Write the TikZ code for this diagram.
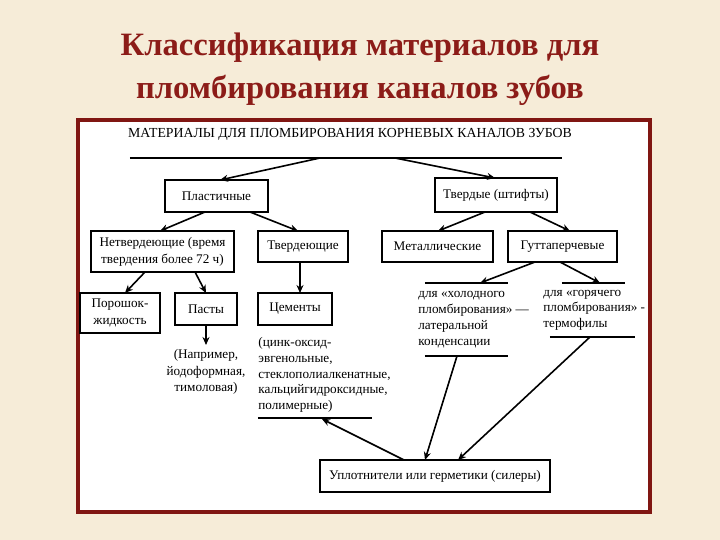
\documentclass[tikz,border=0pt]{standalone}
\usepackage{fontspec}
\setmainfont{Liberation Serif}
\usetikzlibrary{arrows.meta}
\definecolor{bgc}{RGB}{246,236,216}
\definecolor{frm}{RGB}{128,22,18}
\definecolor{ttl}{RGB}{140,28,24}
\begin{document}
\begin{tikzpicture}[x=0.5pt,y=-0.5pt,
  tx/.style={inner sep=0pt,font=\fontsize{6.6}{8}\selectfont},
  ar/.style={thick,-{Stealth[length=4pt,width=3.5pt]}},
  ln/.style={thick}]
\fill[bgc] (0,0) rectangle (720,540);
\useasboundingbox (0,0) rectangle (720,540);
\draw[frm,line width=2pt,fill=white] (78,120) rectangle (650,512);
\node[ttl,font=\fontsize{16.3}{19}\selectfont\bfseries] (t1) at (360,48) {Классификация материалов для};
\node[ttl,font=\fontsize{16.3}{19}\selectfont\bfseries] (t2) at (360,90) {пломбирования каналов зубов};
\node[tx,font=\fontsize{6.9}{8}\selectfont] (hd) at (350,134) {МАТЕРИАЛЫ ДЛЯ ПЛОМБИРОВАНИЯ КОРНЕВЫХ КАНАЛОВ ЗУБОВ};
\coordinate (h1) at (130,158); \coordinate (h2) at (562,158);
\draw[line width=1pt] (h1) -- (h2);
\coordinate (hA) at (320,158); \coordinate (hB) at (395,158);
% boxes
\draw[thick] (165,180) rectangle (268,212); \node[tx] (pl) at (216.5,196) {Пластичные};
\draw[thick] (91,231) rectangle (234,272); \node[tx,align=center,font=\fontsize{6.6}{8.4}\selectfont] (nt) at (162.5,251.5) {Нетвердеющие (время\\твердения более 72 ч)};
\draw[thick] (258,231) rectangle (348,262); \node[tx] (tv) at (303,246.5) {Твердеющие};
\draw[thick] (80,293) rectangle (160,333); \node[tx,align=center,font=\fontsize{6.6}{8.4}\selectfont] (pj) at (120,313) {Порошок-\\жидкость};
\draw[thick] (175,293) rectangle (237,325); \node[tx] (ps) at (206,309) {Пасты};
\draw[thick] (258,293) rectangle (332,325); \node[tx] (cm) at (295,309) {Цементы};
\draw[thick] (435,178) rectangle (557,212); \node[tx] (td) at (496,195) {Твердые (штифты)};
\draw[thick] (382,231) rectangle (493,262); \node[tx] (mt) at (437.5,246.5) {Металлические};
\draw[thick] (508,231) rectangle (617,262); \node[tx] (gt) at (562.5,246.5) {Гуттаперчевые};
\draw[thick] (320,460) rectangle (550,492); \node[tx] (up) at (435,476) {Уплотнители или герметики (силеры)};
% texts
\node[tx,align=center,font=\fontsize{6.6}{8.2}\selectfont] (pst) at (206,372) {(Например,\\йодоформная,\\тимоловая)};
\node[tx,align=left,anchor=north west,font=\fontsize{6.6}{7.9}\selectfont] (cmt) at (258,337) {(цинк-оксид-\\эвгенольные,\\стеклополиалкенатные,\\кальцийгидроксидные,\\полимерные)};
\node[tx,align=left,anchor=north west,font=\fontsize{6.6}{8}\selectfont] (ht) at (418,291) {для «холодного\\пломбирования» —\\латеральной\\конденсации};
\node[tx,align=left,anchor=north west,font=\fontsize{6.6}{7.6}\selectfont] (gr) at (543,290) {для «горячего\\пломбирования» -\\термофилы};
% short lines
\coordinate (c1) at (258,418); \coordinate (c2) at (372,418);
\coordinate (l1) at (425,283); \coordinate (l2) at (508,283);
\coordinate (r1) at (562,283); \coordinate (r2) at (625,283);
\coordinate (l3) at (425,356); \coordinate (l4) at (508,356);
\coordinate (r3) at (550,337); \coordinate (r4) at (635,337);
\draw[ln] (c1)--(c2) (l1)--(l2) (r1)--(r2) (l3)--(l4) (r3)--(r4);
% arrows
\draw[ar] (hA) -- (220,180);
\draw[ar] (hB) -- (495,178);
\draw[ar] (205,212) -- (160,231);
\draw[ar] (250,212) -- (298,231);
\draw[ar] (145,272) -- (125,293);
\draw[ar] (195,272) -- (206,293);
\draw[ar] (300,262) -- (300,293);
\draw[ar] (206,325) -- (206,345);
\draw[ar] (485,212) -- (438,231);
\draw[ar] (530,212) -- (570,231);
\draw[ar] (535,262) -- (480,283);
\draw[ar] (560,262) -- (600,283);
\draw[ar] (404,460) -- (322,419);
\draw[ar] (457,356) -- (425,460);
\draw[ar] (590,337) -- (458,460);
\end{tikzpicture}
\end{document}
